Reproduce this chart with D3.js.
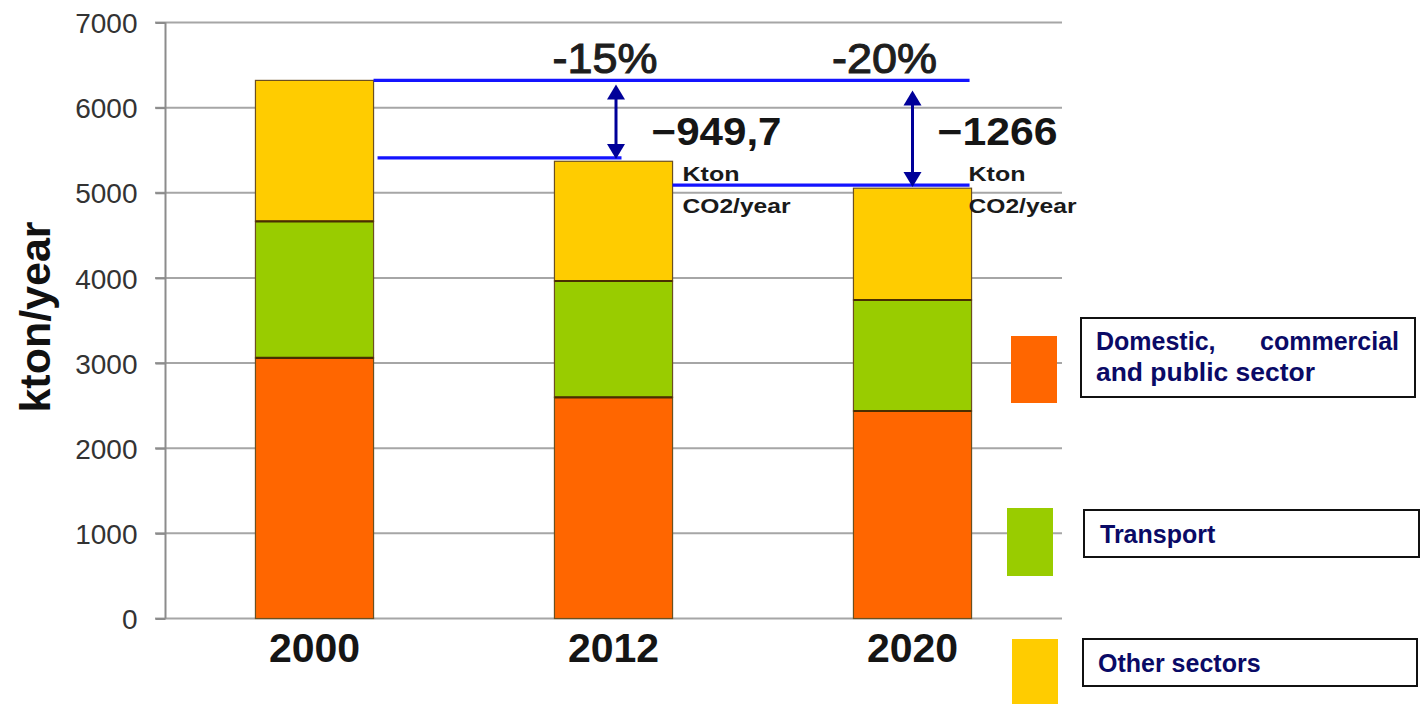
<!DOCTYPE html>
<html>
<head>
<meta charset="utf-8">
<script src="https://cdn.jsdelivr.net/npm/d3@7"></script>
<style>
  html, body { margin: 0; padding: 0; background: #ffffff; }
  svg { display: block; }
  text { font-family: "Liberation Sans", Arial, sans-serif; }
</style>
</head>
<body>
<svg id="chart" width="1420" height="705"></svg>
<script>
// ---- data ----
const years = ["2000", "2012", "2020"];
const seriesNames = ["Domestic, commercial and public sector", "Transport", "Other sectors"];
const domestic = [3060, 2598, 2437];
const transport = [1605, 1366, 1304];
const other = [1655, 1406, 1313];
const seriesColors = ["#FF6600", "#99CC00", "#FFCC00"];
const yTicks = [0, 1000, 2000, 3000, 4000, 5000, 6000, 7000];
const yLabel = "kton/year";
// reference lines: value, start category, end category
const refValues = [6320, 5410, 5090];
const refFrom = ["2000", "2000", "2012"];
const refTo = ["2020", "2012", "2020"];
// reductions
const pctLabels = ["-15%", "-20%"];
const pctYears = ["2012", "2020"];
const deltaLabels = ["\u2212949,7", "\u22121266"];
const unitLine1 = "Kton";
const unitLine2 = "CO2/year";

// ---- layout ----
const svg = d3.select("#chart");
const x = d3.scaleBand().domain(years).range([165, 1062]).paddingInner(0.605).paddingOuter(0.3025);
const y = d3.scaleLinear().domain([0, 7000]).range([618.5, 22.5]);

// gridlines
svg.append("g").selectAll("line").data(yTicks).join("line")
  .attr("x1", 155).attr("x2", 1062)
  .attr("y1", d => y(d)).attr("y2", d => y(d))
  .attr("stroke", "#a6a6a6").attr("stroke-width", 2);

// y axis
const yAxis = d3.axisLeft(y).tickValues(yTicks).tickSize(10).tickPadding(18).tickFormat(d3.format("d"));
const gy = svg.append("g").attr("transform", "translate(165.5,0)").call(yAxis);
gy.select(".domain").attr("stroke", "#8c8c8c").attr("stroke-width", 2).attr("d", `M0,${y(7000)}V${y(0)}`);
gy.selectAll(".tick line").attr("stroke", "#8c8c8c").attr("stroke-width", 2);
gy.selectAll(".tick text").attr("font-size", 28).attr("fill", "#333").attr("dy", "0.36em")
  .style("font-family", "'Liberation Sans', Arial, sans-serif");

// y label
svg.append("text")
  .attr("transform", `translate(50,317) rotate(-90)`)
  .attr("text-anchor", "middle")
  .attr("font-size", 43).attr("font-weight", "bold").attr("fill", "#111")
  .text(yLabel);

// x labels
const xAxis = d3.axisBottom(x).tickSize(0).tickPadding(14);
const gx = svg.append("g").attr("transform", `translate(0,${y(0)})`).call(xAxis);
gx.select(".domain").remove();
gx.selectAll(".tick text").attr("font-size", 41).attr("font-weight", "bold").attr("fill", "#151515")
  .attr("dy", "0.72em")
  .style("font-family", "'Liberation Sans', Arial, sans-serif");

// stacked bars
const rows = years.map((yr, i) => ({ year: yr, s0: domestic[i], s1: transport[i], s2: other[i] }));
const stack = d3.stack().keys(["s0", "s1", "s2"])(rows);
const gBars = svg.append("g");
stack.forEach((layer, li) => {
  gBars.append("g").selectAll("rect").data(layer).join("rect")
    .attr("x", d => x(d.data.year))
    .attr("width", x.bandwidth())
    .attr("y", d => y(d[1]))
    .attr("height", d => y(d[0]) - y(d[1]))
    .attr("fill", seriesColors[li])
    .attr("stroke", "#6b5020").attr("stroke-width", 1.2);
});
// dark separators between segments
stack.slice(1).forEach(layer => {
  gBars.append("g").selectAll("line").data(layer).join("line")
    .attr("x1", d => x(d.data.year)).attr("x2", d => x(d.data.year) + x.bandwidth())
    .attr("y1", d => y(d[0])).attr("y2", d => y(d[0]))
    .attr("stroke", "#4a2e00").attr("stroke-width", 2.2);
});

// reference lines
refValues.forEach((v, i) => {
  const x1 = x(refFrom[i]) + x.bandwidth() + (i === 1 ? 4 : 0);
  const x2 = i === 1 ? x(refTo[i]) + x.bandwidth() / 2 + 8 : x(refTo[i]) + x.bandwidth() - 2;
  svg.append("line")
    .attr("x1", x1).attr("x2", x2)
    .attr("y1", y(v)).attr("y2", y(v))
    .attr("stroke", "#1414ff").attr("stroke-width", 3.2);
});

// arrows
const arrowColor = "#000099";
function arrow(cx, yTop, yBot) {
  const hw = 9, hh = 15;
  svg.append("line").attr("x1", cx).attr("x2", cx).attr("y1", yTop + hh - 2).attr("y2", yBot - hh + 2)
    .attr("stroke", arrowColor).attr("stroke-width", 3);
  svg.append("path").attr("d", `M${cx},${yTop}L${cx - hw},${yTop + hh}L${cx + hw},${yTop + hh}Z`).attr("fill", arrowColor);
  svg.append("path").attr("d", `M${cx},${yBot}L${cx - hw},${yBot - hh}L${cx + hw},${yBot - hh}Z`).attr("fill", arrowColor);
}
arrow(x("2012") + x.bandwidth() / 2 + 2.5, y(refValues[0]) + 4, y(refValues[1]) + 1);
arrow(x("2020") + x.bandwidth() / 2, y(refValues[0]) + 10, y(refValues[2]) + 2);

// percentage labels
pctYears.forEach((yr, i) => {
  const cx = x(yr) + x.bandwidth() / 2 - (i === 0 ? 8.5 : 28);
  svg.append("text").attr("x", cx).attr("y", 72.5).attr("text-anchor", "middle")
    .attr("font-size", 43).attr("fill", "#1e1e1e")
    .attr("stroke", "#1e1e1e").attr("stroke-width", 1.1)
    .attr("textLength", 105).attr("lengthAdjust", "spacingAndGlyphs")
    .text(pctLabels[i]);
});

// delta labels
pctYears.forEach((yr, i) => {
  const xr = x(yr) + x.bandwidth();
  const dx = i === 0 ? -21 : -34;
  svg.append("text").attr("x", xr + dx).attr("y", 145).attr("font-size", 39).attr("font-weight", "bold")
    .attr("fill", "#151515")
    .attr("textLength", i === 0 ? 130 : 120).attr("lengthAdjust", "spacingAndGlyphs")
    .text(deltaLabels[i]);
  const ux = xr + (i === 0 ? 10 : -3);
  svg.append("text").attr("x", ux).attr("y", 181).attr("font-size", 21).attr("font-weight", "bold")
    .attr("fill", "#1a1a1a").attr("textLength", 57).attr("lengthAdjust", "spacingAndGlyphs")
    .text(unitLine1);
  svg.append("text").attr("x", ux).attr("y", 213).attr("font-size", 21).attr("font-weight", "bold")
    .attr("fill", "#1a1a1a").attr("textLength", 108).attr("lengthAdjust", "spacingAndGlyphs")
    .text(unitLine2);
});

// legend
const legendSquares = [
  { x: 1011, y: 336, w: 46, h: 67 },
  { x: 1007, y: 508, w: 46, h: 68 },
  { x: 1012, y: 639, w: 46, h: 65 }
];
const legendBoxes = [
  { x: 1081, y: 318, w: 334, h: 79 },
  { x: 1084, y: 510, w: 335, h: 47 },
  { x: 1083, y: 639, w: 334, h: 47 }
];
const gl = svg.append("g");
seriesNames.forEach((name, i) => {
  const s = legendSquares[i], b = legendBoxes[i];
  gl.append("rect").attr("x", s.x).attr("y", s.y).attr("width", s.w).attr("height", s.h).attr("fill", seriesColors[i]);
  gl.append("rect").attr("x", b.x).attr("y", b.y).attr("width", b.w).attr("height", b.h)
    .attr("fill", "#fff").attr("stroke", "#111").attr("stroke-width", 2);
});
const legendText = "#0a0a66";
// first legend: justified two lines
gl.append("text").attr("x", 1096).attr("y", 350).attr("font-size", 25).attr("font-weight", "bold").attr("fill", legendText).text("Domestic,");
gl.append("text").attr("x", 1399).attr("y", 350).attr("text-anchor", "end").attr("font-size", 25).attr("font-weight", "bold").attr("fill", legendText).text("commercial");
gl.append("text").attr("x", 1096).attr("y", 381).attr("font-size", 25).attr("font-weight", "bold").attr("fill", legendText)
  .attr("textLength", 219).attr("lengthAdjust", "spacingAndGlyphs").text("and public sector");
gl.append("text").attr("x", 1100).attr("y", 543).attr("font-size", 25).attr("font-weight", "bold").attr("fill", legendText).text(seriesNames[1]);
gl.append("text").attr("x", 1098).attr("y", 672).attr("font-size", 25).attr("font-weight", "bold").attr("fill", legendText).text(seriesNames[2]);
</script>
</body>
</html>
